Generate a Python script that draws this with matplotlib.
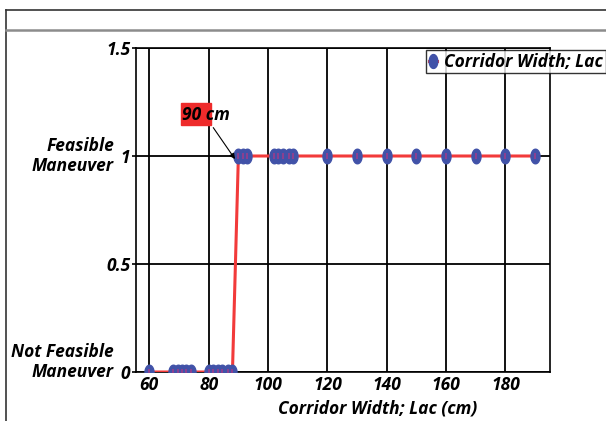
import numpy as np
import matplotlib.pyplot as plt
from matplotlib.patches import Rectangle
from matplotlib.lines import Line2D

# corridor widths (cm) and outcome (0 = not feasible, 1 = feasible)
width_cm = [60, 68, 69.5, 71, 72.5, 74, 80, 81.5, 83, 84.5, 86.5, 88,
            90, 91.5, 93, 102, 103.5, 105, 107, 108.5,
            120, 130, 140, 150, 160, 170, 180, 190]
feasible = [0] * 12 + [1] * 16
xticks = [60, 80, 100, 120, 140, 160, 180]
yticks = [0, 0.5, 1, 1.5]
ytick_labels = ['0', '0.5', '1', '1.5']

plt.rcParams['font.family'] = ['Open Sans', 'DejaVu Sans']
fnt = dict(fontweight='bold', fontstyle='italic')
fs = 12.5

fig = plt.figure(figsize=(6.06, 4.21), dpi=100)
ax = fig.add_axes([136/606, 1-372/421, 414/606, 324/421])

# outer frame like the exported figure
fig.add_artist(Line2D([6/606, 6/606], [0, 1-10/421], color='#333333', lw=1.2, transform=fig.transFigure))
fig.add_artist(Line2D([6/606, 1], [1-10/421, 1-10/421], color='#333333', lw=1.2, transform=fig.transFigure))
fig.add_artist(Line2D([6/606, 1], [1-30/421, 1-30/421], color='#8c8c8c', lw=1.8, transform=fig.transFigure))

# ellipse marker
t = np.linspace(0, 2*np.pi, 40)
ell = list(zip(0.62*np.cos(t), np.sin(t)))

ax.plot(width_cm, feasible, color='#f23a3a', lw=2.2, zorder=3)
ax.plot(width_cm, feasible, ls='none', marker=ell, ms=10.5, mfc='#4152a8', mec='#4152a8', zorder=4)
ax.plot(width_cm, feasible, ls='none', marker='|', ms=5, mew=1.2, color='#9a3d8c', zorder=5)

ax.set_xlim(55.5, 195)
ax.set_ylim(0, 1.5)
ax.set_xticks(xticks)
ax.set_xticklabels([str(v) for v in xticks], fontsize=fs, **fnt)
ax.set_yticks(yticks)
ax.set_yticklabels(ytick_labels, fontsize=fs, **fnt)
ax.tick_params(axis='x', length=0, pad=3)
ax.tick_params(axis='y', length=3, width=1.2, pad=1)
ax.grid(True, color='black', lw=1.3)
ax.set_axisbelow(True)
for s in ax.spines.values():
    s.set_linewidth(1.2)

# category labels next to 1 and 0
fig.text(114/606, 1-156/421, 'Feasible\nManeuver', ha='right', va='center',
         fontsize=fs, linespacing=1.15, **fnt)
fig.text(114/606, 1-362/421, 'Not Feasible\nManeuver', ha='right', va='center',
         fontsize=fs, linespacing=1.15, **fnt)
fig.text(378/606, 1-409/421, 'Corridor Width; Lac (cm)', ha='center', va='center',
         fontsize=fs, **fnt)

# annotation
ax.add_patch(Rectangle((70.5, 1.142), 10.4, 0.102, color='#ee2b2b', zorder=6))
ax.text(71.0, 1.19, '90 cm', fontsize=fs, va='center', zorder=7, **fnt)
ax.annotate('', xy=(89.4, 0.975), xytext=(81.0, 1.142),
            arrowprops=dict(arrowstyle='-|>', color='black', lw=0.8, mutation_scale=8), zorder=7)

# legend
leg_h = [Line2D([], [], color='#f23a3a', lw=2.2, marker=ell, ms=10,
                mfc='#4152a8', mec='#4152a8')]
leg = fig.legend(leg_h, ['Corridor Width; Lac'], loc='upper left',
                 bbox_to_anchor=(426/606, 1-50/421), prop=dict(size=fs, weight='bold', style='italic'),
                 frameon=True, fancybox=False, handlelength=0.5, handletextpad=0.4,
                 borderpad=0.15, borderaxespad=0)
leg.get_frame().set_edgecolor('black')
leg.get_frame().set_linewidth(1.0)

plt.savefig('out.png', dpi=100)
